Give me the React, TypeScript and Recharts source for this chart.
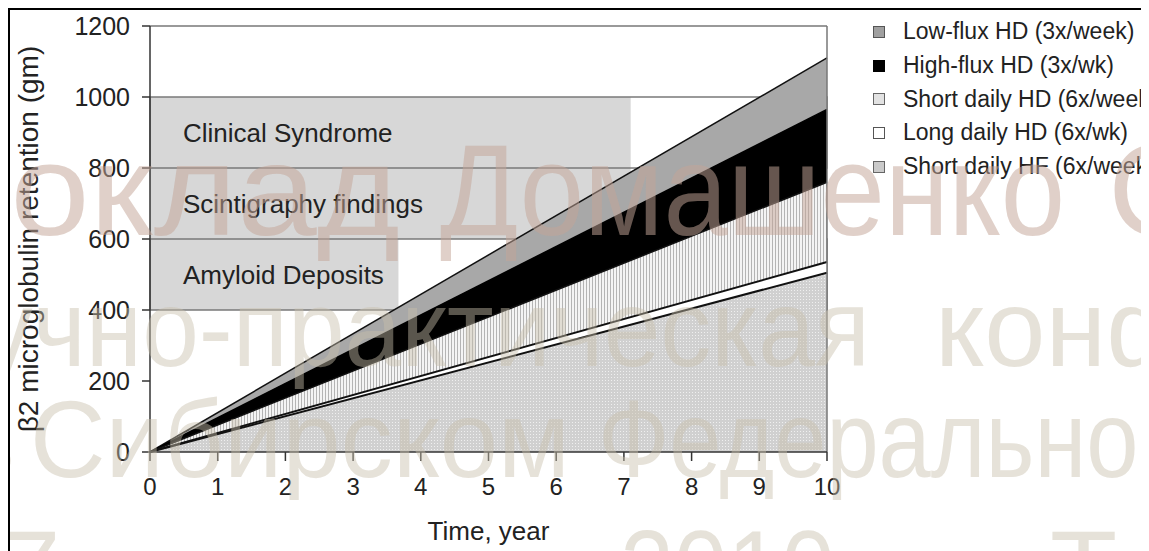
import React from 'react';
import { AreaChart, Area, XAxis, YAxis, ReferenceArea, ReferenceLine, Label } from 'recharts';

const years = [0, 10];
const lowFluxHD = [0, 1110];
const highFluxHD = [0, 965];
const shortDailyHD = [0, 760];
const longDailyHD = [0, 535];
const shortDailyHF = [0, 505];

const xTicks = [0, 1, 2, 3, 4, 5, 6, 7, 8, 9, 10];
const yTicks = [0, 200, 400, 600, 800, 1000, 1200];

const seriesNames = [
  'Low-flux HD (3x/week)',
  'High-flux HD (3x/wk)',
  'Short daily HD (6x/week)',
  'Long daily HD (6x/wk)',
  'Short daily HF (6x/week)',
];

const bandLabels = ['Clinical Syndrome', 'Scintigraphy findings', 'Amyloid Deposits'];
const bandLow = [800, 600, 400];
const bandHigh = [1000, 800, 600];
const bandEnd = [7.1, 7.1, 3.67];
const gridPairs = [
  [400, 600],
  [800, 1000],
];

const data = years.map((year, i) => ({
  year,
  lowFluxHD: lowFluxHD[i],
  highFluxHD: highFluxHD[i],
  shortDailyHD: shortDailyHD[i],
  longDailyHD: longDailyHD[i],
  shortDailyHF: shortDailyHF[i],
}));

const swatches = [
  { background: '#a0a0a0', border: '1px solid #555' },
  { background: '#000', border: '1px solid #000' },
  { background: '#e2e2e2', border: '1px solid #666' },
  { background: '#fff', border: '1px solid #555' },
  { background: '#cacaca', border: '1px solid #666' },
];

const wm1 = { fill: 'rgb(196,165,152)', fillOpacity: 0.52 };
const wm2 = { fill: 'rgb(200,190,170)', fillOpacity: 0.45 };

export default function App() {
  return (
    <div
      style={{
        position: 'relative',
        width: 1141,
        height: 543,
        borderTop: '2px solid #000',
        borderLeft: '2px solid #000',
        boxSizing: 'border-box',
        overflow: 'hidden',
        background: '#fff',
        fontFamily: '"Liberation Sans", Arial, sans-serif',
      }}
    >
      <style>{'html,body{overflow:hidden}'}</style>
      <AreaChart width={1139} height={541} data={data} margin={{ top: 16, right: 322, bottom: 69, left: 80 }}>
        <defs>
          <pattern id="vhatch" width="3" height="4" patternUnits="userSpaceOnUse">
            <rect width="3" height="4" fill="#f4f4f4" />
            <rect x="0" width="1" height="4" fill="#b4b4b4" />
          </pattern>
          <pattern id="dots" width="3" height="3" patternUnits="userSpaceOnUse">
            <rect width="3" height="3" fill="#d0d0d0" />
            <rect x="1" y="1" width="1" height="1" fill="#efefef" />
          </pattern>
        </defs>
        {bandLabels.map((label, i) => (
          <ReferenceArea
            key={label}
            x1={0}
            x2={bandEnd[i]}
            y1={bandLow[i]}
            y2={bandHigh[i]}
            fill="#d7d7d7"
            fillOpacity={1}
            stroke="none"
            label={{ value: label, position: 'insideLeft', offset: 33, fill: '#222', fontSize: 26 }}
          />
        ))}
        {gridPairs.map(([a, b]) => (
          <ReferenceArea
            key={a}
            x1={0}
            x2={10}
            y1={a}
            y2={b}
            fill="none"
            fillOpacity={0}
            stroke="#7a7a7a"
            strokeWidth={1.5}
          />
        ))}
        <ReferenceLine y={1200} stroke="#777" strokeWidth={1.5} />
        <ReferenceLine x={10} stroke="#777" strokeWidth={1.5} />
        <XAxis
          type="number"
          dataKey="year"
          domain={[0, 10]}
          ticks={xTicks}
          interval={0}
          height={30}
          tickSize={9}
          tickMargin={17}
          axisLine={{ stroke: '#333', strokeWidth: 1.5 }}
          tickLine={{ stroke: '#333', strokeWidth: 1.5 }}
          tick={{ fill: '#222', fontSize: 24 }}
        >
          <Label value="Time, year" position="bottom" offset={40} fill="#222" fontSize={26} />
        </XAxis>
        <YAxis
          type="number"
          domain={[0, 1200]}
          ticks={yTicks}
          interval={0}
          width={60}
          tickSize={8}
          tickMargin={12}
          axisLine={{ stroke: '#333', strokeWidth: 1.5 }}
          tickLine={{ stroke: '#333', strokeWidth: 1.5 }}
          tick={{ fill: '#222', fontSize: 25 }}
        >
          <Label
            content={(props: any) => {
              const vb = props.viewBox || { y: 16, height: 426 };
              const cx = 28;
              const cy = vb.y + vb.height / 2;
              return (
                <text
                  x={cx}
                  y={cy}
                  transform={`rotate(-90 ${cx} ${cy})`}
                  textAnchor="middle"
                  fill="#222"
                  fontSize={28}
                >
                  β2 microglobulin retention (gm)
                </text>
              );
            }}
          />
        </YAxis>
        <Area type="linear" dataKey="lowFluxHD" name={seriesNames[0]} fill="#a8a8a8" fillOpacity={1} stroke="#111" strokeWidth={1.5} isAnimationActive={false} />
        <Area type="linear" dataKey="highFluxHD" name={seriesNames[1]} fill="#000" fillOpacity={1} stroke="#000" strokeWidth={1.5} isAnimationActive={false} />
        <Area type="linear" dataKey="shortDailyHD" name={seriesNames[2]} fill="url(#vhatch)" fillOpacity={1} stroke="#111" strokeWidth={1.5} isAnimationActive={false} />
        <Area type="linear" dataKey="longDailyHD" name={seriesNames[3]} fill="#fff" fillOpacity={1} stroke="#111" strokeWidth={2} isAnimationActive={false} />
        <Area type="linear" dataKey="shortDailyHF" name={seriesNames[4]} fill="url(#dots)" fillOpacity={1} stroke="#111" strokeWidth={2} isAnimationActive={false} />
      </AreaChart>
      <div style={{ position: 'absolute', left: 863, top: 5, width: 300 }}>
        {seriesNames.map((name, i) => (
          <div key={name} style={{ height: 33.7, display: 'flex', alignItems: 'center', whiteSpace: 'nowrap' }}>
            <span style={{ display: 'inline-block', width: 12, height: 12, boxSizing: 'border-box', ...swatches[i] }} />
            <span style={{ marginLeft: 18, fontSize: 23, color: '#222' }}>{name}</span>
          </div>
        ))}
      </div>
      <svg
        width={1139}
        height={541}
        style={{ position: 'absolute', left: 0, top: 0, pointerEvents: 'none' }}
      >
        <g fontFamily='"Liberation Sans", Arial, sans-serif'>
          <text x={-98} y={225} fontSize={130} textLength={488} lengthAdjust="spacingAndGlyphs" {...wm1}>Доклад</text>
          <text x={430} y={225} fontSize={130} textLength={625} lengthAdjust="spacingAndGlyphs" {...wm1}>Домашенко</text>
          <text x={1098} y={225} fontSize={130} {...wm1}>С</text>
          <text x={-140} y={356} fontSize={110} textLength={1000} lengthAdjust="spacingAndGlyphs" {...wm2}>научно-практическая</text>
          <text x={925} y={356} fontSize={110} {...wm2}>конференция</text>
          <text x={-53} y={467} fontSize={110} {...wm2}>в</text>
          <text x={20} y={467} fontSize={110} textLength={540} lengthAdjust="spacingAndGlyphs" {...wm2}>Сибирском</text>
          <text x={588} y={467} fontSize={110} textLength={605} lengthAdjust="spacingAndGlyphs" {...wm2}>Федеральном</text>
          <text x={-72} y={597} fontSize={110} {...wm2}>27</text>
          <text x={610} y={597} fontSize={110} textLength={215} lengthAdjust="spacingAndGlyphs" {...wm2}>2010</text>
          <text x={1040} y={597} fontSize={110} {...wm2}>Т</text>
        </g>
      </svg>
    </div>
  );
}
